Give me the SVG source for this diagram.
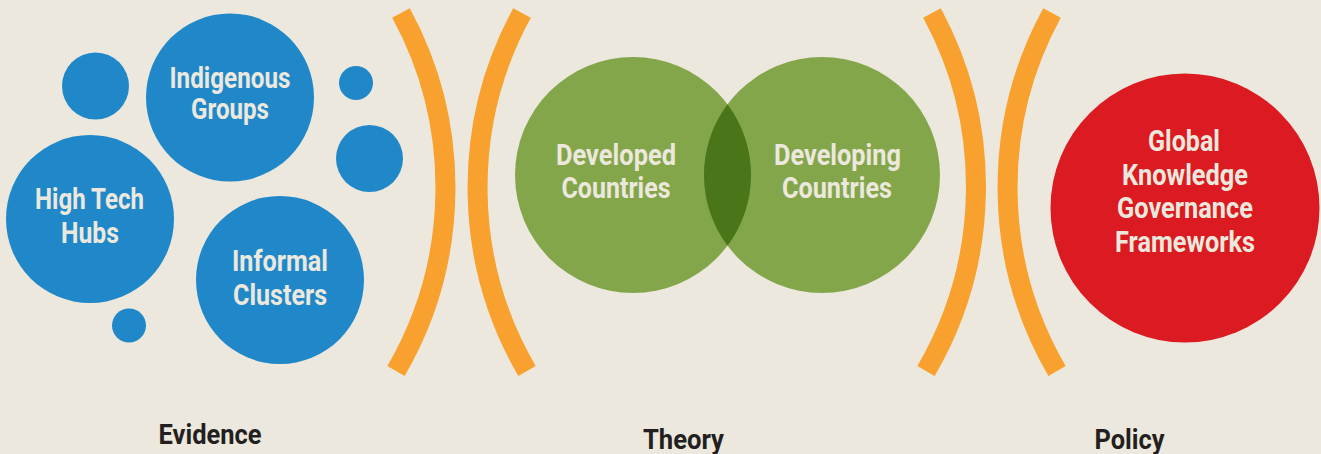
<svg xmlns="http://www.w3.org/2000/svg" width="1321" height="454" viewBox="0 0 1321 454">
  <style>
    .bg { fill: #ECE8DD; }
    .blue { fill: #2088C9; }
    .green { fill: #84A64B; }
    .lens { fill: #4A7518; }
    .red { fill: #DB1B21; }
    .arc { fill: none; stroke: #F9A12E; stroke-width: 20; stroke-linecap: butt; }
    .lbl { font-family: Roboto, "Liberation Sans", sans-serif; font-weight: bold; font-size: 29px; fill: #ECE8DD; text-anchor: middle; }
    .cap { font-family: Roboto, "Liberation Sans", sans-serif; font-weight: bold; font-size: 28px; fill: #231F20; text-anchor: middle; }
  </style>
  <rect class="bg" x="0" y="0" width="1321" height="454"/>

  <g id="evidence-bubbles">
    <circle class="blue" cx="95.5" cy="86" r="33.5"/>
    <circle class="blue" cx="356" cy="83" r="17"/>
    <circle class="blue" cx="369.5" cy="158.5" r="33.5"/>
    <circle class="blue" cx="129" cy="325.5" r="17"/>
  </g>

  <g id="indigenous-groups">
    <circle class="blue" cx="230" cy="97.5" r="84"/>
    <text class="lbl" x="230" y="87.5" textLength="121" lengthAdjust="spacingAndGlyphs">Indigenous</text>
    <text class="lbl" x="230" y="119" textLength="78" lengthAdjust="spacingAndGlyphs">Groups</text>
  </g>

  <g id="high-tech-hubs">
    <circle class="blue" cx="90" cy="219" r="84"/>
    <text class="lbl" x="89.5" y="209" textLength="109" lengthAdjust="spacingAndGlyphs">High Tech</text>
    <text class="lbl" x="90" y="243" textLength="58" lengthAdjust="spacingAndGlyphs">Hubs</text>
  </g>

  <g id="informal-clusters">
    <circle class="blue" cx="280" cy="280" r="84"/>
    <text class="lbl" x="280" y="271" textLength="96" lengthAdjust="spacingAndGlyphs">Informal</text>
    <text class="lbl" x="280" y="305" textLength="94" lengthAdjust="spacingAndGlyphs">Clusters</text>
  </g>

  <g id="dividers">
    <path class="arc" d="M 401 13 A 365 365 0 0 1 396 371"/>
    <path class="arc" d="M 522 13 A 365 365 0 0 0 527 371"/>
    <path class="arc" d="M 932 13 A 365 365 0 0 1 926 371"/>
    <path class="arc" d="M 1052 13 A 365 365 0 0 0 1057 371"/>
  </g>

  <g id="developed-countries">
    <circle class="green" cx="633" cy="175" r="118"/>
    <text class="lbl" x="616" y="165" textLength="120" lengthAdjust="spacingAndGlyphs">Developed</text>
    <text class="lbl" x="616" y="198" textLength="109" lengthAdjust="spacingAndGlyphs">Countries</text>
  </g>

  <g id="developing-countries">
    <circle class="green" cx="822" cy="175" r="118"/>
    <text class="lbl" x="837.5" y="165" textLength="127" lengthAdjust="spacingAndGlyphs">Developing</text>
    <text class="lbl" x="837" y="198" textLength="110" lengthAdjust="spacingAndGlyphs">Countries</text>
  </g>

  <g id="overlap">
    <path class="lens" d="M 727.5 104.3 A 118 118 0 0 1 727.5 245.7 A 118 118 0 0 1 727.5 104.3 Z"/>
  </g>

  <g id="global-knowledge-governance-frameworks">
    <circle class="red" cx="1185" cy="208" r="134.5"/>
    <text class="lbl" x="1184" y="151" textLength="72" lengthAdjust="spacingAndGlyphs">Global</text>
    <text class="lbl" x="1185" y="184.5" textLength="126" lengthAdjust="spacingAndGlyphs">Knowledge</text>
    <text class="lbl" x="1185" y="218" textLength="136" lengthAdjust="spacingAndGlyphs">Governance</text>
    <text class="lbl" x="1185" y="251.5" textLength="140" lengthAdjust="spacingAndGlyphs">Frameworks</text>
  </g>

  <g id="captions">
    <text class="cap" x="210" y="444" textLength="103" lengthAdjust="spacingAndGlyphs">Evidence</text>
    <text class="cap" x="683.5" y="449" textLength="81" lengthAdjust="spacingAndGlyphs">Theory</text>
    <text class="cap" x="1129.5" y="449" textLength="70" lengthAdjust="spacingAndGlyphs">Policy</text>
  </g>
</svg>
